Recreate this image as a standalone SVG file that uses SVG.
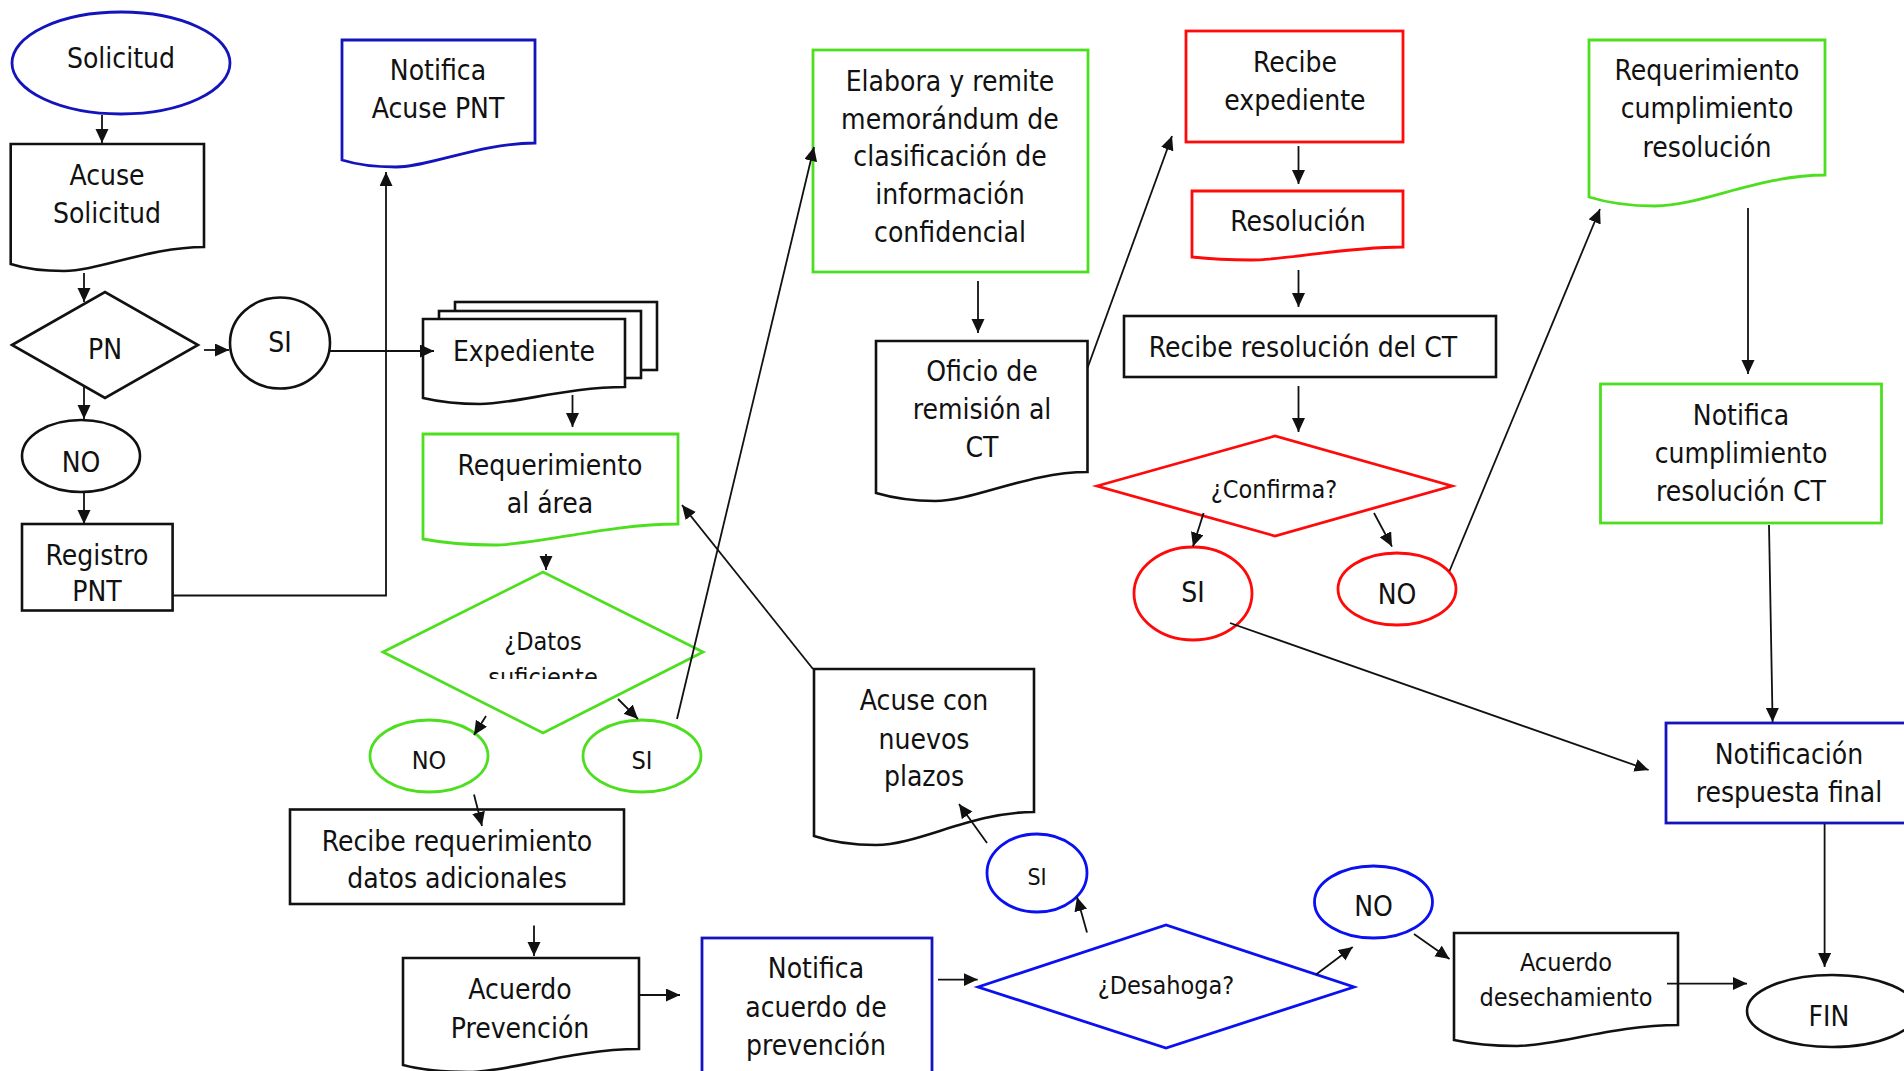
<svg xmlns="http://www.w3.org/2000/svg" width="1904" height="1071" viewBox="0 0 1904 1071">
<style>
text{font-family:"DejaVu Sans Condensed","DejaVu Sans",sans-serif;font-stretch:condensed;font-size:28px;fill:#111;text-anchor:middle}
.sm{font-size:25px}
.xs{font-size:23px}
.k{fill:#fff;stroke:#111;stroke-width:2.6}
.b{fill:#fff;stroke:#1414bc;stroke-width:2.8}
.bb{fill:#fff;stroke:#0a10f0;stroke-width:2.8}
.g{fill:#fff;stroke:#4ddf1f;stroke-width:2.8}
.r{fill:#fff;stroke:#ff0a0a;stroke-width:2.8}
.c{fill:none;stroke:#111;stroke-width:1.8;marker-end:url(#ah)}
</style>
<defs>
<marker id="ah" markerUnits="userSpaceOnUse" markerWidth="15" markerHeight="14" refX="14" refY="6.5" orient="auto">
<path d="M0,0 L14,6.5 L0,13 Z" fill="#111"/>
</marker>
<clipPath id="clipDatos"><rect x="380" y="560" width="330" height="119"/></clipPath>
</defs>
<rect width="1904" height="1071" fill="#fff"/>

<g id="solicitud">
<ellipse class="b" cx="121" cy="63" rx="109" ry="51"/>
<text x="121" y="68">Solicitud</text>
</g>
<g id="acuse-solicitud">
<path class="k" d="M10.7,144 H204 V247 C150,247 98,271 64,271 C40,271 26,269 10.7,264 Z"/>
<text x="107" y="185">Acuse</text>
<text x="107" y="223">Solicitud</text>
</g>
<g id="pn">
<path class="k" d="M12,345 L105,292 L198,345 L105,398 Z"/>
<text x="105" y="359">PN</text>
</g>
<g id="si-pn">
<ellipse class="k" cx="280" cy="343" rx="50" ry="45.5"/>
<text x="280" y="352">SI</text>
</g>
<g id="no-pn">
<ellipse class="k" cx="81" cy="456" rx="59" ry="36"/>
<text x="81" y="472">NO</text>
</g>
<g id="registro-pnt">
<rect class="k" x="22" y="524" width="150.6" height="86.5"/>
<text x="97" y="565">Registro</text>
<text x="97" y="601">PNT</text>
</g>
<g id="notifica-acuse-pnt">
<path class="b" d="M342,40 H535 V143 C481,143 429,167 396,167 C372,167 358,165 342,160 Z"/>
<text x="438" y="80">Notifica</text>
<text x="438" y="118">Acuse PNT</text>
</g>
<g id="expediente">
<rect class="k" x="455" y="302" width="202" height="68"/>
<rect class="k" x="439" y="311" width="202" height="67"/>
<path class="k" d="M423,319 H625 V387 C568,387 514,404 480,404 C456,404 440,402 423,398 Z"/>
<text x="524" y="361">Expediente</text>
</g>
<g id="requerimiento-area">
<path class="g" d="M423,434 H678 V524 C607,524 537,545 494,545 C463,545 444,543 423,539 Z"/>
<text x="550" y="475">Requerimiento</text>
<text x="550" y="513">al área</text>
</g>
<g id="datos-suficientes">
<path class="g" d="M383,652 L543,572 L703,652 L543,733 Z"/>
<text class="sm" x="543" y="650">¿Datos</text>
<text class="sm" x="543" y="686" clip-path="url(#clipDatos)">suficiente</text>
</g>
<g id="no-datos">
<ellipse class="g" cx="429" cy="756" rx="59" ry="36"/>
<text class="sm" x="429" y="769">NO</text>
</g>
<g id="si-datos">
<ellipse class="g" cx="642" cy="756" rx="59" ry="36"/>
<text class="sm" x="642" y="769">SI</text>
</g>
<g id="recibe-requerimiento">
<rect class="k" x="290" y="809.5" width="334" height="94.5"/>
<text x="457" y="851">Recibe requerimiento</text>
<text x="457" y="888">datos adicionales</text>
</g>
<g id="acuerdo-prevencion">
<path class="k" d="M403,958 H639 V1049 C573,1049 509,1072 469,1072 C441,1072 422,1070 403,1065 Z"/>
<text x="520" y="999">Acuerdo</text>
<text x="520" y="1038">Prevención</text>
</g>
<g id="notifica-acuerdo">
<rect class="b" x="702" y="938" width="230" height="140"/>
<text x="816" y="978">Notifica</text>
<text x="816" y="1017">acuerdo de</text>
<text x="816" y="1055">prevención</text>
</g>
<g id="elabora-memorandum">
<rect class="g" x="813" y="50" width="275" height="222"/>
<text x="950" y="91">Elabora y remite</text>
<text x="950" y="129">memorándum de</text>
<text x="950" y="166">clasificación de</text>
<text x="950" y="204">información</text>
<text x="950" y="242">confidencial</text>
</g>
<g id="oficio-remision">
<path class="k" d="M876,341 H1087.5 V472 C1028,472 974,501 935,501 C910,501 893,498 876,493 Z"/>
<text x="982" y="381">Oficio de</text>
<text x="982" y="419">remisión al</text>
<text x="982" y="457">CT</text>
</g>
<g id="acuse-nuevos-plazos">
<path class="k" d="M814,669 H1034 V812 C972,812 918,845 876,845 C850,845 832,842 814,836 Z"/>
<text x="924" y="710">Acuse con</text>
<text x="924" y="749">nuevos</text>
<text x="924" y="786">plazos</text>
</g>
<g id="si-desahoga">
<ellipse class="bb" cx="1037" cy="873" rx="50" ry="39"/>
<text class="xs" x="1037" y="885">SI</text>
</g>
<g id="desahoga">
<path class="bb" d="M978,987 L1166,925 L1354,987 L1166,1048 Z"/>
<text class="sm" x="1166" y="994">¿Desahoga?</text>
</g>
<g id="no-desahoga">
<ellipse class="bb" cx="1373.5" cy="902" rx="59" ry="36"/>
<text x="1373.5" y="916">NO</text>
</g>
<g id="acuerdo-desechamiento">
<path class="k" d="M1454,933 H1678 V1025 C1615,1025 1555,1046 1517,1046 C1490,1046 1472,1044 1454,1040 Z"/>
<text class="sm" x="1566" y="971">Acuerdo</text>
<text class="sm" x="1566" y="1006">desechamiento</text>
</g>
<g id="fin">
<ellipse class="k" cx="1832" cy="1011" rx="85" ry="36"/>
<text x="1829" y="1026">FIN</text>
</g>
<g id="recibe-expediente">
<rect class="r" x="1186" y="31" width="217" height="111"/>
<text x="1295" y="72">Recibe</text>
<text x="1295" y="110">expediente</text>
</g>
<g id="resolucion">
<path class="r" d="M1192,191 H1403 V247 C1344,247 1287,260 1251,260 C1226,260 1210,259 1192,257 Z"/>
<text x="1298" y="231">Resolución</text>
</g>
<g id="recibe-resolucion-ct">
<rect class="k" x="1124" y="316" width="372" height="61"/>
<text x="1303" y="357">Recibe resolución del CT</text>
</g>
<g id="confirma">
<path class="r" d="M1097,486 L1275,436 L1452,486 L1275,536 Z"/>
<text class="sm" x="1274" y="498">¿Confirma?</text>
</g>
<g id="si-confirma">
<ellipse class="r" cx="1193" cy="593.5" rx="59" ry="46.5"/>
<text x="1193" y="602">SI</text>
</g>
<g id="no-confirma">
<ellipse class="r" cx="1397" cy="589" rx="59" ry="36"/>
<text x="1397" y="604">NO</text>
</g>
<g id="requerimiento-cumplimiento">
<path class="g" d="M1589,40 H1825 V175 C1759,175 1701,206 1655,206 C1627,206 1608,203 1589,197 Z"/>
<text x="1707" y="80">Requerimiento</text>
<text x="1707" y="118">cumplimiento</text>
<text x="1707" y="157">resolución</text>
</g>
<g id="notifica-cumplimiento">
<rect class="g" x="1600.5" y="384" width="281" height="139"/>
<text x="1741" y="425">Notifica</text>
<text x="1741" y="463">cumplimiento</text>
<text x="1741" y="501">resolución CT</text>
</g>
<g id="notificacion-respuesta-final">
<rect class="b" x="1666" y="723" width="250" height="100"/>
<text x="1789" y="764">Notificación</text>
<text x="1789" y="802">respuesta final</text>
</g>

<g id="connectors">
<path class="c" d="M102,115 L102,143"/>
<path class="c" d="M84,273 L84,302"/>
<path class="c" d="M204,350 L229,350"/>
<path class="c" d="M330,351 L434,351"/>
<path class="c" d="M84,387 L84,419"/>
<path class="c" d="M84,492 L84,524"/>
<path class="c" d="M172.6,595.5 H386 V172"/>
<path class="c" d="M572.5,395 L572.5,427"/>
<path class="c" d="M546,554 L546,570"/>
<path class="c" d="M486,716 L474,735"/>
<path class="c" d="M618,699 L638,719"/>
<path class="c" d="M677,719 L814,147"/>
<path class="c" d="M813,669 L682,505"/>
<path class="c" d="M474,794.5 L482,826"/>
<path class="c" d="M534,925.5 L534,956"/>
<path class="c" d="M640,995 L680,995"/>
<path class="c" d="M938,979.6 L977.7,979.6"/>
<path class="c" d="M1087,932.6 L1077,897"/>
<path class="c" d="M987,843 L959,804"/>
<path class="c" d="M1316,974.5 L1352.7,947"/>
<path class="c" d="M1414,934 L1449.5,959"/>
<path class="c" d="M1667,983.6 L1747,983.6"/>
<path class="c" d="M978,281 L978,333"/>
<path class="c" d="M1087.5,368 L1172,136"/>
<path class="c" d="M1298.5,146 L1298.5,184"/>
<path class="c" d="M1298.5,270 L1298.5,307"/>
<path class="c" d="M1298.5,386 L1298.5,432"/>
<path class="c" d="M1203.6,513 L1193,546.6"/>
<path class="c" d="M1374,513 L1392,546.6"/>
<path class="c" d="M1230,623 L1648.6,770"/>
<path class="c" d="M1449.5,571 L1600,209"/>
<path class="c" d="M1748,208 L1748,374"/>
<path class="c" d="M1769,525 L1772.6,722"/>
<path class="c" d="M1824.6,824 L1824.6,967"/>
</g>
</svg>
